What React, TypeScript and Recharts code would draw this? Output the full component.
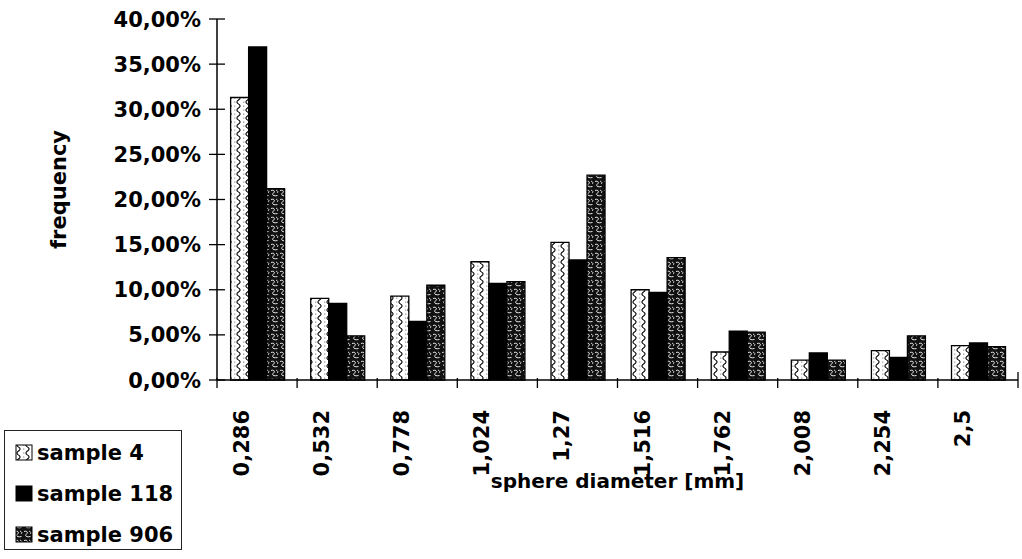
import React from 'react';
import { BarChart, Bar, XAxis, YAxis } from 'recharts';

const categories = ['0,286', '0,532', '0,778', '1,024', '1,27', '1,516', '1,762', '2,008', '2,254', '2,5'];
const sample4 = [31.3, 9.05, 9.3, 13.1, 15.25, 10.0, 3.1, 2.2, 3.25, 3.8];
const sample118 = [36.9, 8.5, 6.5, 10.7, 13.3, 9.7, 5.4, 3.0, 2.5, 4.1];
const sample906 = [21.2, 4.9, 10.5, 10.9, 22.7, 13.55, 5.3, 2.2, 4.9, 3.7];
const yTicks = [0, 5, 10, 15, 20, 25, 30, 35, 40];
const seriesNames = ['sample 4', 'sample 118', 'sample 906'];
const xTitle = 'sphere diameter [mm]';
const yTitle = 'frequency';

const W = 1022;
const H = 559;
const MARGIN = { top: 19, right: 4, bottom: 0, left: 0 };
const Y_AXIS_W = 217;
const X_AXIS_H = 179;
const PLOT_W = W - MARGIN.left - MARGIN.right - Y_AXIS_W;
const BAND = PLOT_W / categories.length;
const FONT = '"DejaVu Sans", Verdana, sans-serif';

const data = categories.map((c, i) => ({
  name: c,
  s4: sample4[i],
  s118: sample118[i],
  s906: sample906[i],
}));

const fmtPct = (v: number) => v.toFixed(2).replace('.', ',') + '%';

function PatternDefs({ prefix }: { prefix: string }) {
  return (
    <defs>
      <pattern id={`${prefix}-s4`} patternUnits="userSpaceOnUse" width="9" height="8">
        <rect width="9" height="8" fill="#ffffff" />
        <path d="M4.5 0 C 6.6 1.5, 6.6 2.5, 4.5 4 C 2.4 5.5, 2.4 6.5, 4.5 8" stroke="#000" strokeWidth="1.1" fill="none" />
        <circle cx="0.8" cy="2" r="0.55" fill="#444" />
        <circle cx="0.8" cy="6" r="0.55" fill="#444" />
      </pattern>
      <pattern id={`${prefix}-s906`} patternUnits="userSpaceOnUse" width="9" height="9">
        <rect width="9" height="9" fill="#111" />
        <path d="M1 1.5 C 4 0.5, 5.5 2.5, 3.5 4 C 1.5 5.5, 3 7.5, 7.5 6.5" stroke="#fff" strokeWidth="0.9" fill="none" />
        <path d="M6 1 C 8 2, 8.5 3, 7 4" stroke="#fff" strokeWidth="0.8" fill="none" />
      </pattern>
    </defs>
  );
}

const YTick = (props: any) => {
  const { x, y, payload } = props;
  return (
    <g>
      <line x1={x - 8} x2={x + 8} y1={y} y2={y} stroke="#000" strokeWidth={1.3} />
      <text
        x={x - 16}
        y={y}
        dy="0.36em"
        textAnchor="end"
        fontFamily={FONT}
        fontWeight="bold"
        fontSize={21}
        fill="#000"
      >
        {fmtPct(payload.value)}
      </text>
    </g>
  );
};

const XTick = (props: any) => {
  const { x, y, payload, index } = props;
  const left = x - BAND / 2;
  const right = x + BAND / 2;
  return (
    <g>
      <line x1={left} x2={left} y1={y - 2} y2={y + 8} stroke="#000" strokeWidth={1.3} />
      {index === categories.length - 1 && (
        <line x1={right} x2={right} y1={y - 8} y2={y + 8} stroke="#000" strokeWidth={1.3} />
      )}
      <text
        transform={`translate(${x - 8},${y + 30}) rotate(-90)`}
        textAnchor="end"
        fontFamily={FONT}
        fontWeight="bold"
        fontSize={21}
        fill="#000"
      >
        {payload.value}
      </text>
    </g>
  );
};

const YLabel = (props: any) => {
  const vb = props.viewBox || { x: 0, y: 19, width: 217, height: 361 };
  return (
    <text
      transform={`translate(${vb.x + 66},${vb.y + vb.height / 2 - 10}) rotate(-90)`}
      textAnchor="middle"
      fontFamily={FONT}
      fontWeight="bold"
      fontSize={21}
      fill="#000"
    >
      {yTitle}
    </text>
  );
};

const XLabel = (props: any) => {
  const vb = props.viewBox || { x: 217, y: 380, width: 801, height: 179 };
  return (
    <text
      x={vb.x + vb.width / 2}
      y={vb.y + 108}
      textAnchor="middle"
      fontFamily={FONT}
      fontWeight="bold"
      fontSize={20}
      fill="#000"
    >
      {xTitle}
    </text>
  );
};

const fills = ['url(#ch-s4)', '#000', 'url(#ch-s906)'];
const legendFills = ['url(#lg-s4)', '#000', 'url(#lg-s906)'];

function LegendBox() {
  return (
    <div
      style={{
        position: 'absolute',
        left: 4,
        top: 430,
        width: 178,
        height: 120,
        border: '1px solid #222',
        boxSizing: 'border-box',
        background: '#fff',
      }}
    >
      <svg width={0} height={0} style={{ position: 'absolute' }}>
        <PatternDefs prefix="lg" />
      </svg>
      {seriesNames.map((n, i) => (
        <div
          key={n}
          style={{
            position: 'absolute',
            left: 0,
            top: 22 + i * 41 - 14,
            height: 28,
            display: 'flex',
            alignItems: 'center',
          }}
        >
          <svg width={30} height={28} style={{ display: 'block' }}>
            <rect x={11} y={6} width={16} height={15} fill={legendFills[i]} stroke="#000" strokeWidth={1} />
          </svg>
          <span
            style={{
              fontFamily: FONT,
              fontWeight: 'bold',
              fontSize: 21,
              marginLeft: 2,
              color: '#000',
              whiteSpace: 'nowrap',
            }}
          >
            {n}
          </span>
        </div>
      ))}
    </div>
  );
}

export default function App() {
  return (
    <div style={{ position: 'absolute', left: 0, top: 0, width: W, height: H, background: '#fff' }}>
      <BarChart
        width={W}
        height={H}
        data={data}
        margin={MARGIN}
        barCategoryGap="17%"
        barGap={0}
      >
        <PatternDefs prefix="ch" />
        <XAxis
          dataKey="name"
          height={X_AXIS_H}
          interval={0}
          tickSize={0}
          tickMargin={0}
          tickLine={false}
          axisLine={{ stroke: '#000', strokeWidth: 1.5 }}
          tick={<XTick />}
          label={<XLabel />}
        />
        <YAxis
          width={Y_AXIS_W}
          domain={[0, 40]}
          ticks={yTicks}
          interval={0}
          tickSize={0}
          tickMargin={0}
          tickLine={false}
          axisLine={{ stroke: '#000', strokeWidth: 1.5 }}
          tick={<YTick />}
          label={<YLabel />}
        />
        <Bar dataKey="s4" name={seriesNames[0]} fill={fills[0]} stroke="#000" strokeWidth={1.3} isAnimationActive={false} />
        <Bar dataKey="s118" name={seriesNames[1]} fill={fills[1]} stroke="#000" strokeWidth={1.3} isAnimationActive={false} />
        <Bar dataKey="s906" name={seriesNames[2]} fill={fills[2]} stroke="#000" strokeWidth={1.3} isAnimationActive={false} />
      </BarChart>
      <LegendBox />
    </div>
  );
}
